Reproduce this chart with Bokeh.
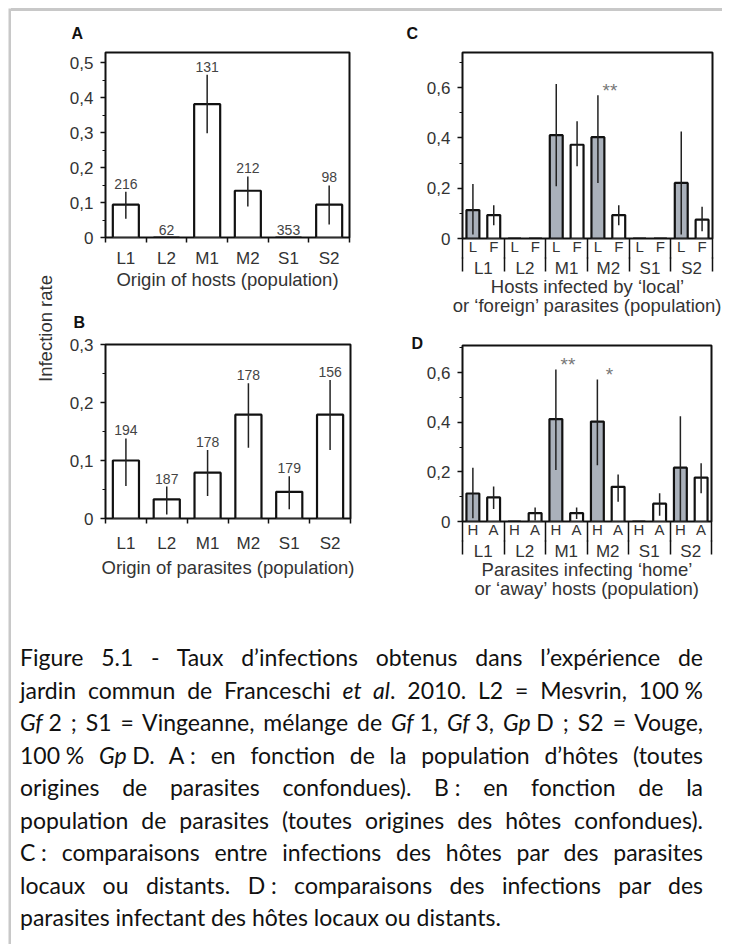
import math
from bokeh.plotting import figure
from bokeh.layouts import row, column
from bokeh.models import FixedTicker, LinearAxis, Range1d, Label, Title, Div, Spacer
from bokeh.embed import file_html
from bokeh.resources import INLINE
from bokeh.core.properties import value

NaN = float("nan")

# ---------------- data ----------------
populations = ["L1", "L2", "M1", "M2", "S1", "S2"]

# A : origin of hosts
hosts_rate = [0.094, 0.0, 0.382, 0.134, 0.0, 0.094]
hosts_hi = [0.131, NaN, 0.466, 0.175, NaN, 0.149]
hosts_lo = [0.054, NaN, 0.299, 0.089, NaN, 0.037]
hosts_n = ["216", "62", "131", "212", "353", "98"]

# B : origin of parasites
para_rate = [0.100, 0.033, 0.079, 0.179, 0.046, 0.179]
para_hi = [0.138, 0.055, 0.118, 0.233, 0.073, 0.239]
para_lo = [0.056, 0.007, 0.039, 0.122, 0.016, 0.118]
para_n = ["194", "187", "178", "178", "179", "156"]

# C : local (L, grey) vs foreign (F, white) parasites
local_rate = [0.113, 0.0, 0.411, 0.403, 0.0, 0.221]
local_hi = [0.217, NaN, 0.615, 0.570, NaN, 0.426]
local_lo = [0.016, NaN, 0.208, 0.221, NaN, 0.016]
foreign_rate = [0.093, 0.0, 0.373, 0.093, 0.0, 0.075]
foreign_hi = [0.132, NaN, 0.466, 0.132, NaN, 0.126]
foreign_lo = [0.053, NaN, 0.287, 0.053, NaN, 0.029]
local_sig = ["", "", "", "**", "", ""]
c_sub = ["L", "F"]

# D : home (H, grey) vs away (A, white) hosts
home_rate = [0.113, 0.0, 0.413, 0.403, 0.0, 0.217]
home_hi = [0.217, NaN, 0.613, 0.573, NaN, 0.425]
home_lo = [0.013, NaN, 0.208, 0.227, NaN, 0.002]
away_rate = [0.097, 0.034, 0.034, 0.140, 0.072, 0.177]
away_hi = [0.141, 0.056, 0.056, 0.190, 0.114, 0.235]
away_lo = [0.050, 0.004, 0.010, 0.080, 0.023, 0.114]
home_sig = ["", "", "**", "*", "", ""]
d_sub = ["H", "A"]

ticks_A = [0, 0.1, 0.2, 0.3, 0.4, 0.5]
labels_A = ["0", "0,1", "0,2", "0,3", "0,4", "0,5"]
minor_A = [0.05, 0.15, 0.25, 0.35, 0.45]
ticks_B = [0, 0.1, 0.2, 0.3]
labels_B = ["0", "0,1", "0,2", "0,3"]
minor_B = [0.05, 0.15, 0.25]
ticks_CD = [0, 0.2, 0.4, 0.6]
labels_CD = ["0", "0,2", "0,4", "0,6"]
minor_CD = [0.1, 0.3, 0.5, 0.7]

y_title = "Infection rate"
a_title = "Origin of hosts (population)"
b_title = "Origin of parasites (population)"
c_title = "Hosts infected by \u2018local\u2019\nor \u2018foreign\u2019 parasites (population)"
d_title = "Parasites infecting \u2018home\u2019\nor \u2018away\u2019 hosts (population)"

caption_lines = [
    "Figure 5.1 - Taux d\u2019infections obtenus dans l\u2019exp\u00e9rience de",
    "jardin commun de Franceschi <i>et al</i>. 2010. L2 = Mesvrin, 100&#8239;%",
    "<i>Gf</i>&#8239;2 ; S1 = Vingeanne, m\u00e9lange de <i>Gf</i>&#8239;1, <i>Gf</i>&#8239;3, <i>Gp</i>&#8239;D ; S2 = Vouge,",
    "100&#8239;% <i>Gp</i>&#8239;D. A&#8239;: en fonction de la population d\u2019h\u00f4tes (toutes",
    "origines de parasites confondues). B&#8239;: en fonction de la",
    "population de parasites (toutes origines des h\u00f4tes confondues).",
    "C&#8239;: comparaisons entre infections des h\u00f4tes par des parasites",
    "locaux ou distants. D&#8239;: comparaisons des infections par des",
    "parasites infectant des h\u00f4tes locaux ou distants.",
]

# ---------------- style ----------------
FONT = "Liberation Sans"
TXT = "#333333"
INK = "#111111"
GREY = "#aab1bb"
FRAME_GREY = "#c8c8c8"

n_groups = len(populations)
centers = [i + 0.5 for i in range(n_groups)]
bounds = list(range(n_groups + 1))


def base_fig(fw, fh, left, right, top, bottom, ymax, ticks, labels, minor):
    p = figure(frame_width=fw, frame_height=fh, min_border_left=left,
               min_border_right=right, min_border_top=top, min_border_bottom=bottom,
               x_range=Range1d(0, n_groups), y_range=Range1d(0, ymax),
               toolbar_location=None, output_backend="svg")
    p.xgrid.visible = False
    p.ygrid.visible = False
    p.outline_line_color = INK
    p.outline_line_width = 2
    p.background_fill_color = "white"
    p.border_fill_color = "white"
    ya = p.yaxis[0]
    ya.ticker = FixedTicker(ticks=ticks, minor_ticks=minor)
    ya.major_label_overrides = dict(zip(ticks, labels))
    ya.axis_line_color = None
    ya.major_tick_out = 5
    ya.major_tick_in = 0
    ya.minor_tick_out = 3
    ya.minor_tick_in = 0
    ya.major_tick_line_color = INK
    ya.minor_tick_line_color = INK
    ya.major_tick_line_width = 1.5
    ya.minor_tick_line_width = 1.2
    ya.major_label_text_font = FONT
    ya.major_label_text_font_size = "17px"
    ya.major_label_text_color = TXT
    ya.major_label_standoff = 7
    return p


def letter(p, txt, offset, standoff):
    p.add_layout(Title(text=txt, align="left", offset=offset, standoff=standoff,
                       text_font=FONT, text_font_size="16px", text_font_style="bold",
                       text_color=INK), "above")


def errorbars(p, xs, lo, hi):
    p.segment(x0=xs, y0=lo, x1=xs, y1=hi, line_color="#222222", line_width=1.5)


def simple_panel(rate, hi, lo, n, geom, ymax, ticks, labels, minor, xtitle,
                 label_standoff, title_standoff, let, let_pos):
    p = base_fig(*geom, ymax, ticks, labels, minor)
    p.vbar(x=centers, top=rate, bottom=0, width=0.64, fill_color="white",
           line_color=INK, line_width=2.2)
    errorbars(p, centers, lo, hi)
    base = [h if not math.isnan(h) else r for h, r in zip(hi, rate)]
    p.text(x=centers, y=base, text=n, text_align="center", text_baseline="bottom",
           y_offset=-3, text_font=value(FONT), text_font_size="14px", text_color="#444444")
    xa = p.xaxis[0]
    xa.ticker = FixedTicker(ticks=centers, minor_ticks=bounds)
    xa.major_label_overrides = dict(zip(centers, populations))
    xa.axis_line_color = None
    xa.major_tick_line_color = None
    xa.major_tick_out = 0
    xa.major_tick_in = 0
    xa.minor_tick_out = 5
    xa.minor_tick_in = 0
    xa.minor_tick_line_color = INK
    xa.minor_tick_line_width = 1.5
    xa.major_label_standoff = label_standoff
    xa.major_label_text_font = FONT
    xa.major_label_text_font_size = "17px"
    xa.major_label_text_color = TXT
    xa.axis_label = xtitle
    xa.axis_label_text_font = FONT
    xa.axis_label_text_font_size = "18.5px"
    xa.axis_label_text_font_style = "normal"
    xa.axis_label_text_color = TXT
    xa.axis_label_standoff = title_standoff
    letter(p, let, *let_pos)
    return p


def paired_panel(g_rate, g_hi, g_lo, w_rate, w_hi, w_lo, sig, sub, geom, ymax,
                 title, let, let_pos):
    p = base_fig(*geom, ymax, ticks_CD, labels_CD, minor_CD)
    xg = [c - 0.25 for c in centers]
    xw = [c + 0.25 for c in centers]
    p.vbar(x=xg, top=g_rate, bottom=0, width=0.31, fill_color=GREY,
           line_color=INK, line_width=2.2)
    p.vbar(x=xw, top=w_rate, bottom=0, width=0.31, fill_color="white",
           line_color=INK, line_width=2.2)
    errorbars(p, xg, g_lo, g_hi)
    errorbars(p, xw, w_lo, w_hi)
    p.text(x=xg, y=g_hi, text=sig, text_align="center", text_baseline="alphabetic",
           x_offset=12, y_offset=-5, text_font=value(FONT), text_font_size="19px",
           text_color="#777777")
    sub_ticks = []
    sub_labels = []
    for a, b in zip(xg, xw):
        sub_ticks += [a, b]
        sub_labels += sub
    ax1 = p.xaxis[0]
    ax1.ticker = FixedTicker(ticks=sub_ticks, minor_ticks=bounds)
    ax1.major_label_overrides = dict(zip(sub_ticks, sub_labels))
    ax1.axis_line_color = None
    ax1.major_tick_line_color = None
    ax1.major_tick_out = 0
    ax1.major_tick_in = 0
    ax1.minor_tick_out = 20
    ax1.minor_tick_in = 0
    ax1.minor_tick_line_color = INK
    ax1.minor_tick_line_width = 1.5
    ax1.major_label_standoff = -21
    ax1.major_label_text_font = FONT
    ax1.major_label_text_font_size = "15px"
    ax1.major_label_text_color = TXT
    ax2 = LinearAxis(ticker=FixedTicker(ticks=centers, minor_ticks=bounds),
                     major_label_overrides=dict(zip(centers, populations)),
                     axis_line_color=None, major_tick_line_color=None,
                     minor_tick_line_color=INK, minor_tick_line_width=1.5,
                     major_tick_out=0, major_tick_in=0, minor_tick_out=14, minor_tick_in=0,
                     major_label_standoff=-13, major_label_text_font=FONT,
                     major_label_text_font_size="17px", major_label_text_color=TXT,
                     axis_label=title, axis_label_text_font=FONT,
                     axis_label_text_font_size="18.5px", axis_label_text_font_style="normal",
                     axis_label_text_color=TXT, axis_label_standoff=-5,
                     axis_label_text_line_height=0.95)
    p.add_layout(ax2, "below")
    letter(p, let, *let_pos)
    return p


pa = simple_panel(hosts_rate, hosts_hi, hosts_lo, hosts_n, (244, 185, 49, 11, 41, 59),
                  0.53, ticks_A, labels_A, minor_A, a_title, 6, -2, "A", (-34, 21))
pb = simple_panel(para_rate, para_hi, para_lo, para_n, (245, 174, 47, 12, 48, 102),
                  0.3, ticks_B, labels_B, minor_B, b_title, 10, 1, "B", (-32, 28))
pc = paired_panel(local_rate, local_hi, local_lo, foreign_rate, foreign_hi, foreign_lo,
                  local_sig, c_sub, (250, 186, 102, 10, 41, 83), 0.74, c_title, "C", (-56, 21))
pd = paired_panel(home_rate, home_hi, home_lo, away_rate, away_hi, away_lo,
                  home_sig, d_sub, (249, 176, 100, 13, 24, 99), 0.71, d_title, "D", (-51, -12))

lab = figure(width=45, height=609, x_range=Range1d(0, 1), y_range=Range1d(0, 1),
             x_axis_location=None, y_axis_location=None, toolbar_location=None,
             output_backend="svg", min_border=0)
lab.xgrid.visible = False
lab.ygrid.visible = False
lab.outline_line_color = None
lab.add_layout(Label(x=34, y=292, x_units="screen", y_units="screen", text=y_title,
                     angle=90, angle_units="deg", text_align="center",
                     text_baseline="middle", text_font=FONT, text_font_size="18.5px",
                     text_color=TXT))

line_divs = "".join(
    "<div style='text-align: justify; text-align-last: justify;'>%s</div>" % l
    for l in caption_lines[:-1]) + "<div>%s</div>" % caption_lines[-1]
caption = Div(text=("<div style=\"font-family: Lato, sans-serif; font-size: 23px; "
                    "line-height: 32.5px; color: #111111; width: 692px; "
                    "padding-left: 9px; padding-top: 21px;\">%s</div>" % line_divs),
              width=711, height=318, margin=0)


def rule(w, h):
    f = figure(width=w, height=h, min_border=0, x_axis_location=None,
               y_axis_location=None, toolbar_location=None, output_backend="svg",
               background_fill_color=FRAME_GREY, border_fill_color=FRAME_GREY)
    f.outline_line_color = None
    f.xgrid.visible = False
    f.ygrid.visible = False
    return f


top_line = Div(text="", width=711, height=3, margin=0,
               styles={"background-color": FRAME_GREY, "min-height": "3px"})
left_line = rule(3, 936)

page = column(Spacer(width=10, height=8),
              row(Spacer(width=8, height=10), left_line,
                  column(top_line, row(lab, column(pa, pb), column(pc, pd)), caption)))

open("out.html", "w").write(file_html(page, INLINE))
